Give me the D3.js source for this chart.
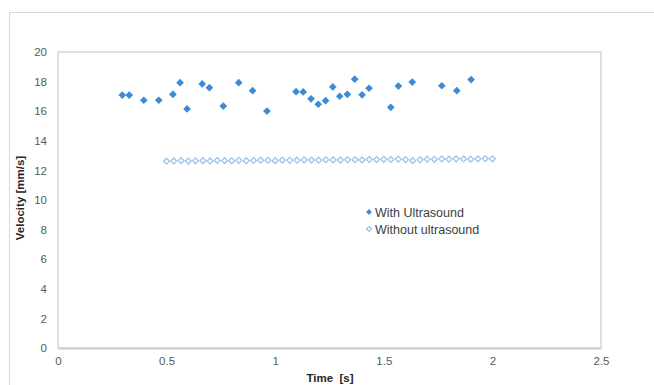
<!DOCTYPE html>
<html>
<head>
<meta charset="utf-8">
<script src="https://cdn.jsdelivr.net/npm/d3@7"></script>
<style>
  body { margin: 0; background: #fff; }
  svg { display: block; font-family: "Liberation Sans", Arial, sans-serif; }
</style>
</head>
<body>
<div id="chart"></div>
<script>
const width = 654, height = 385;

// With ultrasound
const withTime = [0.296, 0.328, 0.395, 0.464, 0.529, 0.562, 0.594, 0.664, 0.697, 0.761,
  0.832, 0.896, 0.962, 1.096, 1.129, 1.165, 1.198, 1.232, 1.265, 1.297,
  1.332, 1.366, 1.400, 1.432, 1.532, 1.567, 1.631, 1.767, 1.836, 1.902];
const withVel = [17.09, 17.09, 16.74, 16.74, 17.14, 17.93, 16.15, 17.84, 17.59, 16.35,
  17.93, 17.39, 16.01, 17.32, 17.30, 16.84, 16.47, 16.71, 17.64, 17.01,
  17.14, 18.16, 17.11, 17.55, 16.26, 17.70, 17.97, 17.72, 17.39, 18.14];

// Without ultrasound
const withoutTime = [0.500, 0.533, 0.567, 0.600, 0.633, 0.667, 0.700, 0.733, 0.767, 0.800,
  0.833, 0.867, 0.900, 0.933, 0.967, 1.000, 1.033, 1.067, 1.100, 1.133,
  1.167, 1.200, 1.233, 1.267, 1.300, 1.333, 1.367, 1.400, 1.433, 1.467,
  1.500, 1.533, 1.567, 1.600, 1.633, 1.667, 1.700, 1.733, 1.767, 1.800,
  1.833, 1.867, 1.900, 1.933, 1.967, 2.000];
const withoutVel = [12.62, 12.64, 12.66, 12.63, 12.65, 12.66, 12.64, 12.67, 12.66, 12.65,
  12.68, 12.66, 12.67, 12.69, 12.68, 12.66, 12.70, 12.68, 12.69, 12.71,
  12.70, 12.69, 12.72, 12.71, 12.70, 12.73, 12.72, 12.71, 12.74, 12.73,
  12.75, 12.74, 12.76, 12.73, 12.66, 12.72, 12.76, 12.75, 12.77, 12.76,
  12.78, 12.77, 12.76, 12.78, 12.79, 12.78];

const xTicks = [0, 0.5, 1, 1.5, 2, 2.5];
const yTicks = [0, 2, 4, 6, 8, 10, 12, 14, 16, 18, 20];

const margin = {left: 58, right: 53, top: 52, bottom: 37};

const x = d3.scaleLinear().domain([0, 2.5]).range([margin.left, width - margin.right]);
const y = d3.scaleLinear().domain([0, 20]).range([height - margin.bottom, margin.top]);

const svg = d3.select("#chart").append("svg")
    .attr("width", width)
    .attr("height", height);

// outer chart frame
svg.append("rect")
    .attr("x", 9.5).attr("y", 12.5)
    .attr("width", width + 10).attr("height", height)
    .attr("fill", "none")
    .attr("stroke", "#d9d9d9");

// plot area border
svg.append("rect")
    .attr("x", x(0)).attr("y", y(20))
    .attr("width", x(2.5) - x(0)).attr("height", y(0) - y(20))
    .attr("fill", "none")
    .attr("stroke", "#d4d4d4")
    .attr("stroke-width", 1.5);

const xAxis = svg.append("g")
    .attr("transform", `translate(0,${y(0)})`)
    .call(d3.axisBottom(x).tickValues(xTicks).tickSize(0).tickPadding(9)
        .tickFormat(d => String(d)));
xAxis.select(".domain").attr("stroke", "#cccccc").attr("stroke-width", 2);
xAxis.selectAll("text").attr("fill", "#595959").attr("font-size", 11.5);

const yAxis = svg.append("g")
    .attr("transform", `translate(${x(0)},0)`)
    .call(d3.axisLeft(y).tickValues(yTicks).tickSize(0).tickPadding(11));
yAxis.select(".domain").remove();
yAxis.selectAll("text").attr("fill", "#595959").attr("font-size", 11.5);

// axis titles
svg.append("text")
    .attr("x", 330).attr("y", 382)
    .attr("text-anchor", "middle")
    .attr("font-size", 11.5).attr("font-weight", "bold")
    .attr("fill", "#262626")
    .attr("xml:space", "preserve")
    .text("Time\u00a0 [s]");

svg.append("text")
    .attr("transform", `translate(24,${(y(0) + y(20)) / 2 - 2}) rotate(-90)`)
    .attr("text-anchor", "middle")
    .attr("font-size", 11.5).attr("font-weight", "bold")
    .attr("fill", "#262626")
    .text("Velocity [mm/s]");

const diamond = d3.symbol().type(d3.symbolDiamond2);

svg.append("g")
    .selectAll("path")
    .data(withoutTime.map((t, i) => [t, withoutVel[i]]))
    .join("path")
    .attr("transform", d => `translate(${x(d[0])},${y(d[1])})`)
    .attr("d", diamond.size(22)())
    .attr("fill", "#fff")
    .attr("stroke", "#9dc3ea")
    .attr("stroke-width", 1.3);

svg.append("g")
    .selectAll("path")
    .data(withTime.map((t, i) => [t, withVel[i]]))
    .join("path")
    .attr("transform", d => `translate(${x(d[0])},${y(d[1])})`)
    .attr("d", diamond.size(38)())
    .attr("fill", "#3d8bd7");

// legend
const legend = svg.append("g").attr("transform", "translate(369,212)");
legend.append("path")
    .attr("d", diamond.size(22)())
    .attr("fill", "#3d8bd7");
legend.append("text")
    .attr("x", 6).attr("y", 4.5)
    .attr("font-size", 12.5).attr("fill", "#404040")
    .text("With Ultrasound");
legend.append("path")
    .attr("transform", "translate(0,17)")
    .attr("d", diamond.size(16)())
    .attr("fill", "#fff")
    .attr("stroke", "#9dc3ea")
    .attr("stroke-width", 1.2);
legend.append("text")
    .attr("x", 6).attr("y", 21.5)
    .attr("font-size", 12.5).attr("fill", "#404040")
    .text("Without ultrasound");
</script>
</body>
</html>
